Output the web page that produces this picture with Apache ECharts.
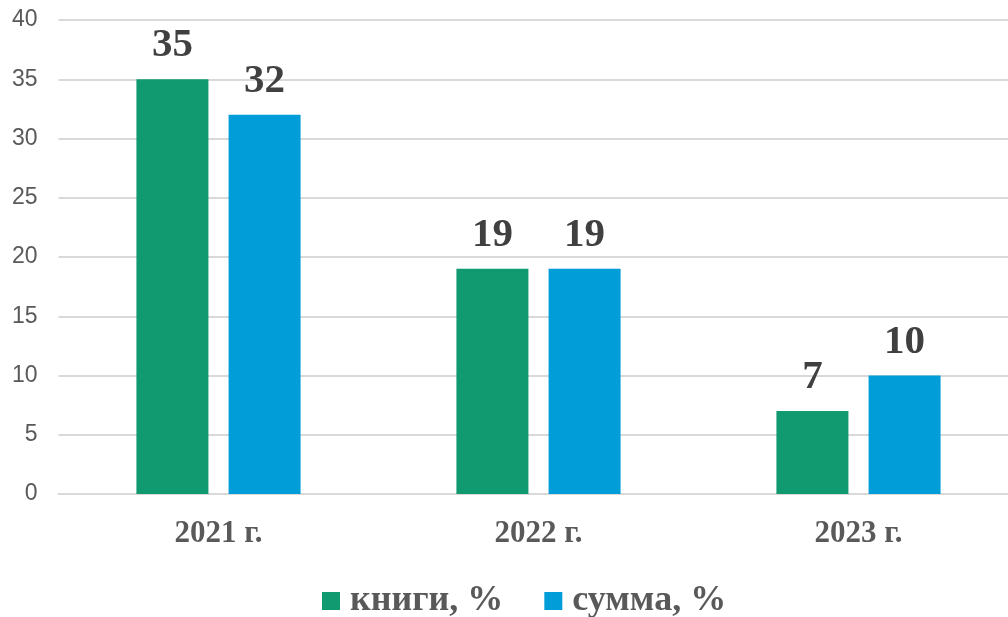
<!DOCTYPE html>
<html><head><meta charset="utf-8">
<script src="https://cdn.jsdelivr.net/npm/echarts@6/dist/echarts.min.js"></script>
<style>html,body{margin:0;padding:0;background:#fff;overflow:hidden}#c{width:1020px;height:617px}</style>
</head><body><div id="c"></div>
<script>
const categories = ['2021 г.', '2022 г.', '2023 г.'];
const seriesNames = ['книги, %', 'сумма, %'];
const books = [35, 19, 7];
const sums = [32, 19, 10];
const yTicks = { min: 0, max: 40, interval: 5 };

const chart = echarts.init(document.getElementById('c'));
const serif = '"Liberation Serif", "Times New Roman", serif';
const labelStyle = { show: true, position: 'top', distance: 13, fontFamily: serif, fontWeight: 'bold', fontSize: 41, color: '#404040' };
chart.setOption({
  animation: false,
  grid: { left: 58.5, right: 1.5, top: 20, bottom: 123 },
  legend: {
    top: 578, left: 317, itemWidth: 18, itemHeight: 18, itemGap: 41,
    icon: 'rect',
    textStyle: { fontFamily: serif, fontWeight: 'bold', fontSize: 36, color: '#595959', padding: [0, 0, 0, 5] },
    data: seriesNames
  },
  xAxis: {
    type: 'category', data: categories,
    axisLine: { lineStyle: { color: '#d9d9d9', width: 2 } },
    axisTick: { show: false },
    axisLabel: { margin: 24, fontFamily: serif, fontWeight: 'bold', fontSize: 31, color: '#595959' }
  },
  yAxis: {
    type: 'value', min: yTicks.min, max: yTicks.max, interval: yTicks.interval,
    axisLine: { show: false }, axisTick: { show: false },
    axisLabel: { margin: 21, fontFamily: '"Liberation Sans", Arial, sans-serif', fontSize: 23, color: '#595959' },
    splitLine: { lineStyle: { color: '#d9d9d9', width: 2 } }
  },
  series: [
    { name: seriesNames[0], type: 'bar', data: books, barWidth: 72, barGap: '28%', itemStyle: { color: '#119a6f' }, label: labelStyle },
    { name: seriesNames[1], type: 'bar', data: sums, barWidth: 72, itemStyle: { color: '#009dd9' }, label: labelStyle }
  ]
});
</script></body></html>
